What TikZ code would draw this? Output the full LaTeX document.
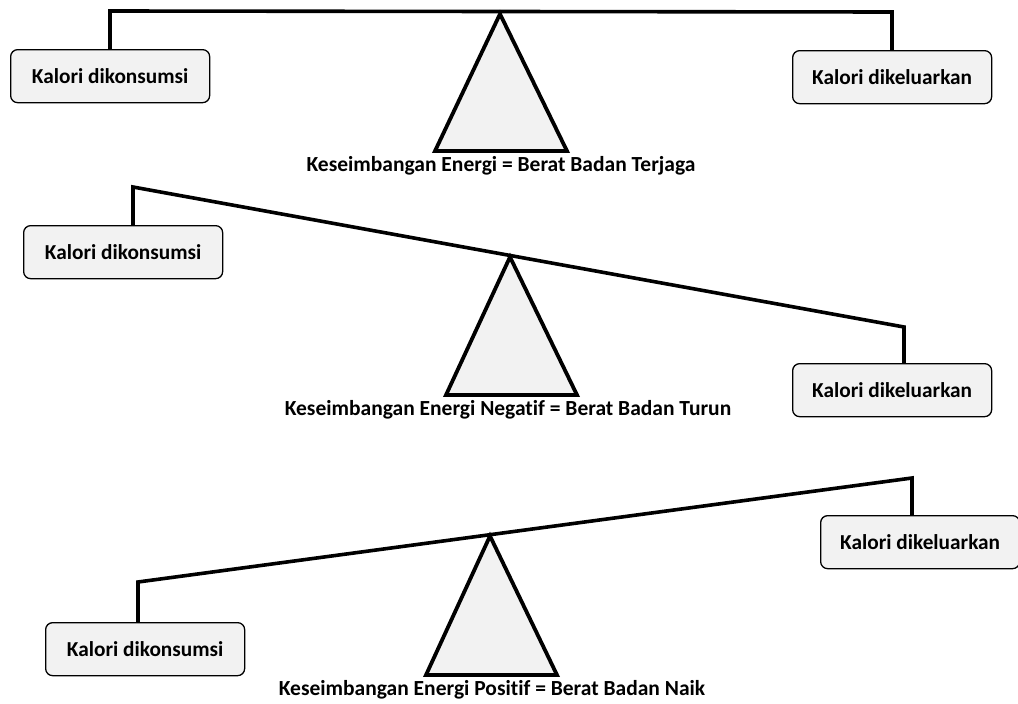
\documentclass[tikz,border=0pt]{standalone}
\usepackage{fontspec}
\setmainfont{Carlito}[RawFeature=-liga]
\definecolor{boxfill}{RGB}{242,242,242}
\begin{document}
\begin{tikzpicture}[x=1pt,y=-1pt,
  kbox/.style={draw=black,line width=1.3pt,rounded corners=7pt,fill=boxfill,
    minimum width=199pt,minimum height=53pt,inner sep=0pt,anchor=north west,
    font=\bfseries\fontsize{21.3}{25}\selectfont},
  beam/.style={line width=3.6pt,line join=miter},
  fulcrum/.style={draw=black,line width=3.8pt,fill=boxfill,line join=miter},
  captext/.style={font=\bfseries\fontsize{21.5}{25}\selectfont,inner sep=0pt}]
\useasboundingbox (0,0) rectangle (1018,704);
% ---------- panel 1
\node[kbox] (k1) at (10,49) {Kalori dikonsumsi};
\node[kbox] (o1) at (792,50) {Kalori dikeluarkan};
\coordinate (a1) at (110,11);
\coordinate (b1) at (892,12);
\draw[beam] (a1 |- k1.north) -- (a1) -- (b1) -- (b1 |- o1.north);
\coordinate (t1) at (500,14);
\draw[fulcrum] (t1) -- (435,151) -- (567,151) -- cycle;
\node[captext] (c1) at (501,166) {Keseimbangan Energi = Berat Badan Terjaga};
% ---------- panel 2
\node[kbox] (k2) at (23,225) {Kalori dikonsumsi};
\node[kbox] (o2) at (792,363) {Kalori dikeluarkan};
\coordinate (a2) at (133,187);
\coordinate (b2) at (904,327);
\draw[beam] (a2 |- k2.north) -- (a2) -- (b2) -- (b2 |- o2.north);
\coordinate (t2) at (510,257);
\draw[fulcrum] (t2) -- (446,395) -- (577,395) -- cycle;
\node[captext] (c2) at (508,410) {Keseimbangan Energi Negatif = Berat Badan Turun};
% ---------- panel 3
\node[kbox] (k3) at (45,622) {Kalori dikonsumsi};
\node[kbox] (o3) at (820,515) {Kalori dikeluarkan};
\coordinate (a3) at (138,582);
\coordinate (b3) at (912,478);
\draw[beam] (a3 |- k3.north) -- (a3) -- (b3) -- (b3 |- o3.north);
\coordinate (t3) at (490,536);
\draw[fulcrum] (t3) -- (426,675) -- (557,675) -- cycle;
\node[captext] (c3) at (492,690) {Keseimbangan Energi Positif = Berat Badan Naik};
\end{tikzpicture}
\end{document}
